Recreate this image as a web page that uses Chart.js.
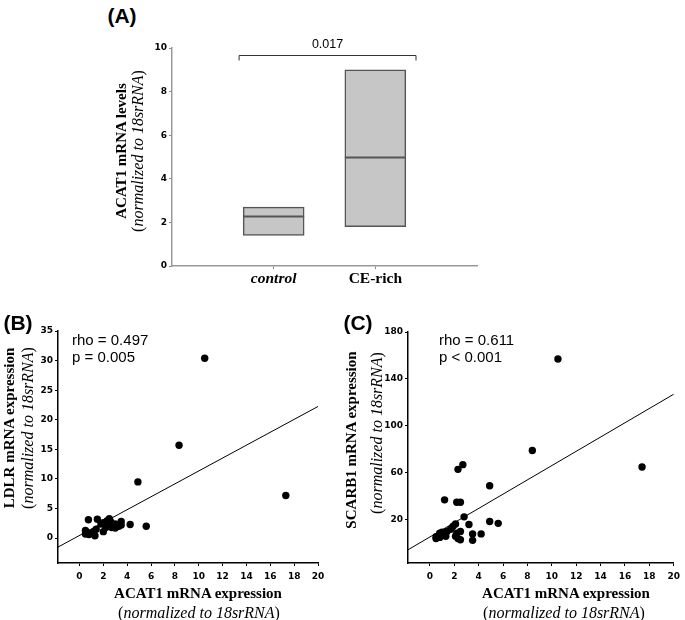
<!DOCTYPE html>
<html>
<head>
<meta charset="utf-8">
<script src="https://cdn.jsdelivr.net/npm/chart.js@4"></script>
<style>
  body { margin: 0; background: #fff; }
  #wrap { position: relative; width: 685px; height: 620px; overflow: hidden; background: #fff; }
  canvas { position: absolute; }
  .lbl { position: absolute; white-space: nowrap; color: #000; transform: translate(-50%, -50%); }
  .rot { transform: translate(-50%, -50%) rotate(-90deg); }
  .panel { font: bold 21px "Liberation Sans", Arial, sans-serif; }
  .bold { font: bold 15px "Liberation Serif", serif; }
  .ital { font: italic 16px "Liberation Serif", serif; }
  .ital span { font-style: normal; }
  .stat { position: absolute; font: 15px "Liberation Sans", Arial, sans-serif; line-height: 17px; color: #000; }
</style>
</head>
<body>
<div id="wrap">
  <canvas id="chartA" width="370" height="260" style="left:120px;top:30px"></canvas>
  <canvas id="chartB" width="320" height="270" style="left:10px;top:320px"></canvas>
  <canvas id="chartC" width="335" height="270" style="left:350px;top:320px"></canvas>

  <div class="lbl panel" style="left:122px;top:16px">(A)</div>
  <div class="lbl panel" style="left:18px;top:323px">(B)</div>
  <div class="lbl panel" style="left:358px;top:323px">(C)</div>

  <!-- panel A axis title -->
  <div class="lbl rot bold" style="left:121px;top:151px">ACAT1 mRNA levels</div>
  <div class="lbl rot ital" style="left:138px;top:151px"><span>(</span>normalized to 18srRNA<span>)</span></div>

  <!-- panel B axis titles -->
  <div class="lbl rot bold" style="left:9px;top:428px">LDLR mRNA expression</div>
  <div class="lbl rot ital" style="left:28px;top:428px"><span>(</span>normalized to 18srRNA<span>)</span></div>
  <div class="lbl bold" style="left:198px;top:593px">ACAT1 mRNA expression</div>
  <div class="lbl ital" style="left:199px;top:613px"><span>(</span>normalized to 18srRNA<span>)</span></div>

  <!-- panel C axis titles -->
  <div class="lbl rot bold" style="left:351px;top:440px">SCARB1 mRNA expression</div>
  <div class="lbl rot ital" style="left:377px;top:433px"><span>(</span>normalized to 18srRNA<span>)</span></div>
  <div class="lbl bold" style="left:566px;top:593px">ACAT1 mRNA expression</div>
  <div class="lbl ital" style="left:564px;top:613px"><span>(</span>normalized to 18srRNA<span>)</span></div>

  <div class="stat" style="left:72px;top:331px">rho = 0.497<br>p = 0.005</div>
  <div class="stat" style="left:439px;top:331px">rho = 0.611<br>p &lt; 0.001</div>
</div>

<script>
// ---- panel A: ACAT1 levels per group (box = q1..q3, line = median)
const groups = ['control', 'CE-rich'];
const q1 = [1.4, 1.8];
const q3 = [2.7, 9.0];
const medians = [2.3, 5.0];
const pValueA = '0.017';
const aYTicks = [0, 2, 4, 6, 8, 10];

// ---- panel B: ACAT1 vs LDLR
const ldlrX = [10.5, 8.35, 4.9, 17.3, 5.6, 4.25,
  0.75, 1.5, 2.0, 2.5, 2.6, 3.0, 3.5, 3.5, 0.5, 0.5, 0.8, 1.1, 1.3, 1.4,
  1.0, 2.0, 2.2, 2.4, 2.7, 3.0, 3.3, 1.8, 2.3, 0.6];
const ldlrY = [30.4, 15.7, 9.5, 7.2, 2.0, 2.3,
  3.1, 3.2, 2.6, 3.3, 2.8, 2.4, 2.8, 2.2, 1.3, 0.7, 0.6, 1.0, 0.4, 1.5,
  0.8, 1.1, 1.8, 2.3, 1.8, 1.7, 2.0, 2.4, 2.9, 1.0];
const ldlrFit = { intercept: 0.45, slope: 1.09 };
const bXTicks = [0, 2, 4, 6, 8, 10, 12, 14, 16, 18, 20];
const bYTicks = [0, 5, 10, 15, 20, 25, 30, 35];

// ---- panel C: ACAT1 vs SCARB1
const scarbX = [10.5, 8.4, 17.4, 4.9, 2.7, 2.3, 1.2, 2.2, 2.5, 5.6, 4.9, 4.2, 3.2, 2.8, 3.5, 3.5,
  0.5, 0.5, 0.8, 0.8, 1.0, 1.3, 1.4, 1.7, 1.9, 2.1, 2.1, 2.3, 2.5, 2.5, 2.2];
const scarbY = [157, 79, 65, 49, 67, 63, 37, 35, 35, 17, 18.5, 8, 16, 22.5, 8, 2.5,
  5.5, 4, 8.5, 5, 9.5, 6, 10, 12, 14.5, 16.5, 6, 4, 10, 3, 8.5];
const scarbFit = { intercept: 5.4, slope: 6.08 };
const cXTicks = [0, 2, 4, 6, 8, 10, 12, 14, 16, 18, 20];
const cYTicks = [20, 60, 100, 140, 180];

Chart.defaults.devicePixelRatio = 1;
Chart.defaults.animation = false;
Chart.defaults.color = '#000';

const tickFont = { family: 'DejaVu Sans', size: 9, weight: 'bold' };

// median lines inside the boxes + significance bracket
const boxExtras = {
  id: 'boxExtras',
  afterDatasetsDraw(chart) {
    const ctx = chart.ctx, y = chart.scales.y, x = chart.scales.x;
    const meta = chart.getDatasetMeta(0);
    ctx.save();
    ctx.strokeStyle = '#555';
    ctx.lineWidth = 2;
    meta.data.forEach((bar, i) => {
      const py = Math.round(y.getPixelForValue(medians[i])) + 0.5;
      ctx.beginPath();
      ctx.moveTo(bar.x - bar.width / 2, py);
      ctx.lineTo(bar.x + bar.width / 2, py);
      ctx.stroke();
    });
    // bracket
    const x1 = x.getPixelForValue(0.66), x2 = x.getPixelForValue(2.4);
    const top = Math.round(y.getPixelForValue(9.7)) + 0.5;
    ctx.strokeStyle = '#333';
    ctx.lineWidth = 1;
    ctx.beginPath();
    ctx.moveTo(x1, top + 5);
    ctx.lineTo(x1, top);
    ctx.lineTo(x2, top);
    ctx.lineTo(x2, top + 5);
    ctx.stroke();
    ctx.fillStyle = '#000';
    ctx.font = '12.5px "Liberation Sans", Arial, sans-serif';
    ctx.textAlign = 'center';
    ctx.textBaseline = 'bottom';
    ctx.fillText(pValueA, (x1 + x2) / 2, top - 5);
    ctx.restore();
  }
};

new Chart(document.getElementById('chartA'), {
  type: 'bar',
  data: {
    datasets: [{
      data: groups.map((g, i) => ({ x: i + 1, y: [q1[i], q3[i]] })),
      backgroundColor: '#c6c6c6',
      borderColor: '#555',
      borderWidth: 1.5,
      borderSkipped: false,
      barThickness: 61
    }]
  },
  options: {
    responsive: false,
    layout: { padding: { top: 18, right: 13, left: 0, bottom: 0 } },
    plugins: { legend: { display: false }, tooltip: { enabled: false } },
    scales: {
      x: {
        type: 'linear', min: 0, max: 3, offset: false,
        afterBuildTicks: s => { s.ticks = groups.map((g, i) => ({ value: i + 1 })); },
        afterFit: s => { s.height = 24; },
        ticks: {
          callback: v => groups[v - 1],
          padding: 1,
          font: c => ({ family: 'Liberation Serif', size: 15.5, weight: 'bold', style: c.index === 0 ? 'italic' : 'normal' })
        },
        grid: { drawOnChartArea: false, offset: false, tickLength: 3, color: '#888' },
        border: { color: '#999', width: 1.5 }
      },
      y: {
        min: 0, max: 10,
        afterBuildTicks: s => { s.ticks = aYTicks.map(v => ({ value: v })); },
        afterFit: s => { s.width = 52; },
        ticks: { font: tickFont, padding: 2 },
        grid: { drawOnChartArea: false, tickLength: 3, color: '#888' },
        border: { color: '#999', width: 1.5 }
      }
    }
  },
  plugins: [boxExtras]
});

function scatterChart(id, xs, ys, fit, xTicks, yTicks, yMin, yMax, yAxisW, padTop, padRight) {
  const xMin = -1.8, xMax = 20;
  return new Chart(document.getElementById(id), {
    type: 'scatter',
    data: {
      datasets: [{
        data: xs.map((x, i) => ({ x: x, y: ys[i] })),
        backgroundColor: '#000',
        borderWidth: 0,
        pointRadius: 3.7
      }, {
        data: [xMin, xMax].map(x => ({ x: x, y: fit.intercept + fit.slope * x })),
        showLine: true,
        borderColor: '#000',
        borderWidth: 1,
        pointRadius: 0
      }]
    },
    options: {
      responsive: false,
      layout: { padding: { top: padTop, right: padRight, left: 0, bottom: 0 } },
      plugins: { legend: { display: false }, tooltip: { enabled: false } },
      scales: {
        x: {
          type: 'linear', min: xMin, max: xMax,
          afterBuildTicks: s => { s.ticks = xTicks.map(v => ({ value: v })); },
          afterFit: s => { s.height = 27; },
          ticks: { font: tickFont, padding: 5 },
          grid: { drawOnChartArea: false, tickLength: 3, color: '#000' },
          border: { color: '#000', width: 1.5 }
        },
        y: {
          min: yMin, max: yMax,
          afterBuildTicks: s => { s.ticks = yTicks.map(v => ({ value: v })); },
          afterFit: s => { s.width = yAxisW; },
          ticks: { font: tickFont, padding: 2 },
          grid: { drawOnChartArea: false, tickLength: 3, color: '#000' },
          border: { color: '#000', width: 1.5 }
        }
      }
    }
  });
}

scatterChart('chartB', ldlrX, ldlrY, ldlrFit, bXTicks, bYTicks, -4.2, 35, 48, 11, 12);
scatterChart('chartC', scarbX, scarbY, scarbFit, cXTicks, cYTicks, -16.8, 180, 58, 12, 8);
</script>
</body>
</html>
